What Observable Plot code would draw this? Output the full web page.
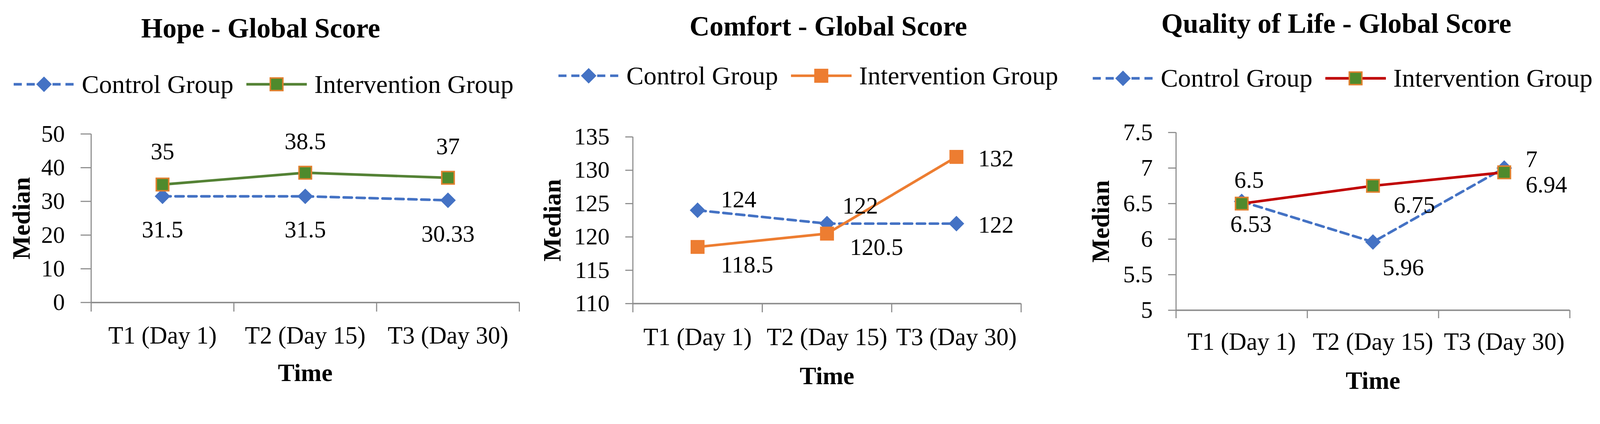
<!DOCTYPE html>
<html><head><meta charset="utf-8">
<script src="https://cdn.jsdelivr.net/npm/d3@7"></script>
<script src="https://cdn.jsdelivr.net/npm/@observablehq/plot@0.6"></script>
<style>
html,body{margin:0;padding:0;background:#fff;overflow:hidden;}
#root{position:relative;width:4327px;height:1086px;overflow:hidden;font-family:"Liberation Serif",serif;color:#000;transform-origin:0 0;}
.title{position:absolute;font-weight:bold;font-size:75px;line-height:75px;text-align:center;white-space:nowrap;}
.legend{position:absolute;display:flex;align-items:center;font-size:70px;line-height:70px;white-space:nowrap;}
.legend svg{display:block;}
.legend .lab{margin-left:20px;}
.legend .item2{margin-left:35px;}
.chart{position:absolute;}
</style></head>
<body><div id="root"></div>
<script>
// ---- data ----
const timeLabels = ["T1 (Day 1)", "T2 (Day 15)", "T3 (Day 30)"];
const seriesNames = ["Control Group", "Intervention Group"];
const titles = ["Hope - Global Score", "Comfort - Global Score", "Quality of Life - Global Score"];
const yLabel = "Median";
const xLabel = "Time";

const hopeControl = [31.5, 31.5, 30.33];
const hopeIntervention = [35, 38.5, 37];
const hopeTicks = [0, 10, 20, 30, 40, 50];

const comfortControl = [124, 122, 122];
const comfortIntervention = [118.5, 120.5, 132];
const comfortTicks = [110, 115, 120, 125, 130, 135];

const qolControl = [6.53, 5.96, 7];
const qolIntervention = [6.5, 6.75, 6.94];
const qolTicks = [5, 5.5, 6, 6.5, 7, 7.5];

// ---- styles ----
const blue = "#4472C4";
const axisGray = "#8C8C8C";
const dash = "22,13";
const markerGreen = "#4F8A2C";
const markerOrangeEdge = "#E0802E";

const panels = [
  {
    title: titles[0], control: hopeControl, intervention: hopeIntervention, ticks: hopeTicks,
    intLine: "#548235", intFill: markerGreen, intEdge: markerOrangeEdge,
    L: {left: 0, top: 300, width: 1450, height: 786, mL: 246, mR: 46, mT: 62, mB: 268,
        titleX: 705, titleY: 75, legendX: 37, legendY: 228, yTick: 28, yPad: 43, xPad: 64, bTick: 25,
        medianDx: -188, timeDy: 191},
    lab: {
      control: [[0, 91, "middle"], [0, 91, "middle"], [0, 92, "middle"]],
      intervention: [[0, -89, "middle"], [0, -84, "middle"], [0, -84, "middle"]]
    }
  },
  {
    title: titles[1], control: comfortControl, intervention: comfortIntervention, ticks: comfortTicks,
    intLine: "#ED7D31", intFill: "#ED7D31", intEdge: "#ED7D31",
    L: {left: 1450, top: 300, width: 1450, height: 786, mL: 261, mR: 139, mT: 70, mB: 265,
        titleX: 2240, titleY: 70, legendX: 1510, legendY: 205, yTick: 20, yPad: 43, xPad: 66, bTick: 24,
        medianDx: -217, timeDy: 197},
    lab: {
      control: [[63, -28, "start"], [42, -48, "start"], [59, 4, "start"]],
      intervention: [[63, 49, "start"], [62, 37, "start"], [59, 5, "start"]]
    }
  },
  {
    title: titles[2], control: qolControl, intervention: qolIntervention, ticks: qolTicks,
    intLine: "#C00000", intFill: markerGreen, intEdge: markerOrangeEdge,
    L: {left: 2900, top: 300, width: 1427, height: 786, mL: 280, mR: 82, mT: 58, mB: 247,
        titleX: 3614, titleY: 63, legendX: 2955, legendY: 212, yTick: 21, yPad: 42, xPad: 60, bTick: 22,
        medianDx: -203, timeDy: 191},
    lab: {
      control: [[25, 62, "middle"], [26, 69, "start"], [58, -23, "start"]],
      intervention: [[20, -63, "middle"], [56, 52, "start"], [58, 34, "start"]]
    }
  }
];

const diamondSymbol = {
  draw(ctx, size) {
    const r = Math.sqrt(size) * 0.62625;
    ctx.moveTo(0, -r); ctx.lineTo(r, 0); ctx.lineTo(0, r); ctx.lineTo(-r, 0); ctx.closePath();
  }
};

const root = document.getElementById("root");
const fit = () => {
  const s = Math.min(window.innerWidth / 4327, window.innerHeight / 1086, 1);
  root.style.transform = `scale(${s})`;
};
fit();
window.addEventListener("resize", fit);

function swatch(kind, p) {
  const w = 164, h = 70, c = h / 2, m = w / 2;
  if (kind === "control") {
    const r = 21;
    return `<svg width="${w}" height="${h}"><line x1="0" x2="${w}" y1="${c}" y2="${c}" stroke="${blue}" stroke-width="7" stroke-dasharray="${dash}"/>` +
      `<path d="M${m},${c - r}L${m + r},${c}L${m},${c + r}L${m - r},${c}Z" fill="${blue}"/></svg>`;
  }
  const s = 17;
  return `<svg width="${w}" height="${h}"><line x1="0" x2="${w}" y1="${c}" y2="${c}" stroke="${p.intLine}" stroke-width="7"/>` +
    `<rect x="${m - s}" y="${c - s}" width="${2 * s}" height="${2 * s}" fill="${p.intFill}" stroke="${p.intEdge}" stroke-width="4"/></svg>`;
}

function labelMarks(values, offs) {
  return values.map((v, i) => Plot.text([{i, v}], {
    x: d => d.i + 0.5, y: "v", text: d => String(d.v),
    dx: offs[i][0], dy: offs[i][1], textAnchor: offs[i][2], lineAnchor: "middle",
    fontSize: 64, fill: "#000"
  }));
}

for (const p of panels) {
  const L = p.L;
  const t = document.createElement("div");
  t.className = "title";
  t.textContent = p.title;
  t.style.left = (L.titleX - 1000) + "px";
  t.style.width = "2000px";
  t.style.top = (L.titleY - 37.5) + "px";
  root.appendChild(t);

  const lg = document.createElement("div");
  lg.className = "legend";
  lg.style.left = L.legendX + "px";
  lg.style.top = (L.legendY - 35) + "px";
  lg.innerHTML = swatch("control", p) + `<span class="lab">${seriesNames[0]}</span>` +
    `<span class="item2">${swatch("intervention", p)}</span><span class="lab">${seriesNames[1]}</span>`;
  root.appendChild(lg);

  const ctrl = p.control.map((v, i) => ({i, v, time: timeLabels[i]}));
  const intv = p.intervention.map((v, i) => ({i, v, time: timeLabels[i]}));
  const yDom = [p.ticks[0], p.ticks[p.ticks.length - 1]];

  const chart = Plot.plot({
    width: L.width, height: L.height,
    marginLeft: L.mL, marginRight: L.mR, marginTop: L.mT, marginBottom: L.mB,
    x: {domain: [0, timeLabels.length], axis: null},
    y: {domain: yDom, axis: null},
    style: {fontFamily: "Liberation Serif", fontSize: "66px", color: "#000", background: "transparent", overflow: "visible", maxWidth: "none"},
    marks: [
      Plot.axisY({ticks: p.ticks, tickSize: L.yTick, tickPadding: L.yPad, tickFormat: d => String(d), stroke: axisGray, strokeWidth: 3, label: null, fontSize: 64}),
      Plot.axisX({ticks: d3.range(timeLabels.length + 1), tickSize: L.bTick, tickFormat: () => "", stroke: axisGray, strokeWidth: 3, label: null}),
      Plot.axisX({ticks: timeLabels.map((_, i) => i + 0.5), tickSize: 0, tickPadding: L.xPad, tickFormat: d => timeLabels[Math.floor(d)], label: null, fontSize: 66}),
      Plot.ruleX([0], {stroke: axisGray, strokeWidth: 3}),
      Plot.ruleY([yDom[0]], {stroke: axisGray, strokeWidth: 4}),
      Plot.text([yLabel], {frameAnchor: "left", text: d => d, rotate: -90, textAnchor: "middle", lineAnchor: "middle", dx: L.medianDx, fontWeight: "bold", fontSize: 68}),
      Plot.text([xLabel], {frameAnchor: "bottom", text: d => d, textAnchor: "middle", lineAnchor: "middle", dy: L.timeDy, fontWeight: "bold", fontSize: 67}),
      Plot.line(ctrl, {x: d => d.i + 0.5, y: "v", stroke: blue, strokeWidth: 7, strokeDasharray: dash}),
      Plot.dot(ctrl, {x: d => d.i + 0.5, y: "v", symbol: diamondSymbol, r: 19, fill: blue}),
      Plot.line(intv, {x: d => d.i + 0.5, y: "v", stroke: p.intLine, strokeWidth: 7}),
      Plot.dot(intv, {x: d => d.i + 0.5, y: "v", symbol: "square", r: 19, fill: p.intFill, stroke: p.intEdge, strokeWidth: 4}),
      ...labelMarks(p.control, p.lab.control),
      ...labelMarks(p.intervention, p.lab.intervention)
    ]
  });
  chart.classList.add("chart");
  chart.style.left = L.left + "px";
  chart.style.top = L.top + "px";
  root.appendChild(chart);
}
</script></body></html>
